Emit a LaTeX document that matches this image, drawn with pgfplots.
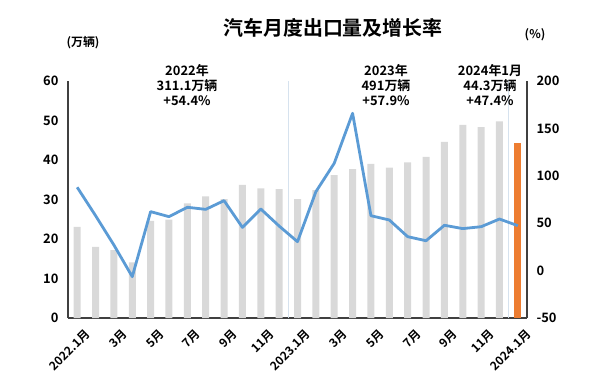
\documentclass[border=0pt]{standalone}
\usepackage{fontspec}
\setmainfont{Noto Sans CJK SC}[BoldFont={Noto Sans CJK SC Bold}]
\usepackage{pgfplots}
\pgfplotsset{compat=1.18}
\definecolor{bargray}{RGB}{217,217,217}
\definecolor{barorange}{RGB}{237,125,49}
\definecolor{lineblue}{RGB}{91,155,213}
\definecolor{sepblue}{RGB}{214,226,238}
\begin{document}
\begin{tikzpicture}[x=1bp,y=1bp]
\useasboundingbox (-68,-70) rectangle (532,318);
\begin{axis}[
  at={(0,0)}, anchor=south west,
  scale only axis, width=459bp, height=237bp,
  xmin=-0.5, xmax=24.5, ymin=0, ymax=60,
  axis x line*=bottom, axis y line*=left,
  axis line style={-, black!75, line width=1.2bp},
  xtick={0,2,...,24},
  xticklabels={2022.1月,3月,5月,7月,9月,11月,2023.1月,3月,5月,7月,9月,11月,2024.1月},
  ytick={0,10,...,60},
  major tick length=0pt,
  /pgf/number format/assume math mode=true,
  x tick label style={rotate=45, anchor=north east, font=\bfseries\fontsize{12}{12}\selectfont, inner sep=1bp, yshift=-11bp, xshift=-1bp},
  y tick label style={font=\bfseries\fontsize{13}{13}\selectfont, xshift=-6bp},
  clip=false,
]
\addplot[sepblue, line width=1bp] coordinates {(11.5,0) (11.5,60)};
\addplot[sepblue, line width=1bp] coordinates {(23.5,0) (23.5,60)};
\addplot[ybar, bar width=7bp, bar shift=0pt, fill=bargray, draw=none] coordinates {
(0,23.1) (1,18.0) (2,17.2) (3,14.1) (4,24.6) (5,24.9) (6,29.0) (7,30.8) (8,30.1) (9,33.7) (10,32.8) (11,32.6)
(12,30.1) (13,32.4) (14,36.2) (15,37.7) (16,39.0) (17,38.1) (18,39.4) (19,40.8) (20,44.6) (21,48.9) (22,48.3) (23,49.8)
};
\addplot[ybar, bar width=7bp, bar shift=0pt, fill=barorange, draw=none] coordinates {(24,44.3)};
\end{axis}
\begin{axis}[
  at={(0,0)}, anchor=south west,
  scale only axis, width=459bp, height=237bp,
  xmin=-0.5, xmax=24.5, ymin=-50, ymax=200,
  axis x line=none, axis y line*=right,
  axis line style={-, black!75, line width=1.2bp},
  ytick={-50,0,...,200},
  major tick length=0pt,
  /pgf/number format/assume math mode=true,
  y tick label style={font=\bfseries\fontsize{13}{13}\selectfont, anchor=west, xshift=6bp},
]
\addplot[lineblue, line width=2.8bp, line join=round, mark=none] coordinates {
(0,87.9) (1,58) (2,27) (3,-6.4) (4,62.2) (5,56.9) (6,66.8) (7,64.6) (8,73.8) (9,45.6) (10,65) (11,47)
(12,30.5) (13,83.2) (14,113.2) (15,165.9) (16,57.9) (17,53.4) (18,35.8) (19,31.5) (20,47.8) (21,44.3) (22,46.3) (23,54.4) (24,47.4)
};
\end{axis}
\node[font=\bfseries\fontsize{20}{20}\selectfont] at (265,290) {汽车月度出口量及增长率};
\node[font=\bfseries\fontsize{12}{12}\selectfont] at (15,275) {(万辆)};
\node[font=\bfseries\fontsize{12}{12}\selectfont] at (467,283) {(\%)};
\node[font=\bfseries\fontsize{13}{15}\selectfont, align=center] at (119,233) {2022年\\311.1万辆\\+54.4\%};
\node[font=\bfseries\fontsize{13}{15}\selectfont, align=center] at (318,233) {2023年\\491万辆\\+57.9\%};
\node[font=\bfseries\fontsize{13}{15}\selectfont, align=center] at (422,233) {2024年1月\\44.3万辆\\+47.4\%};
\end{tikzpicture}
\end{document}
